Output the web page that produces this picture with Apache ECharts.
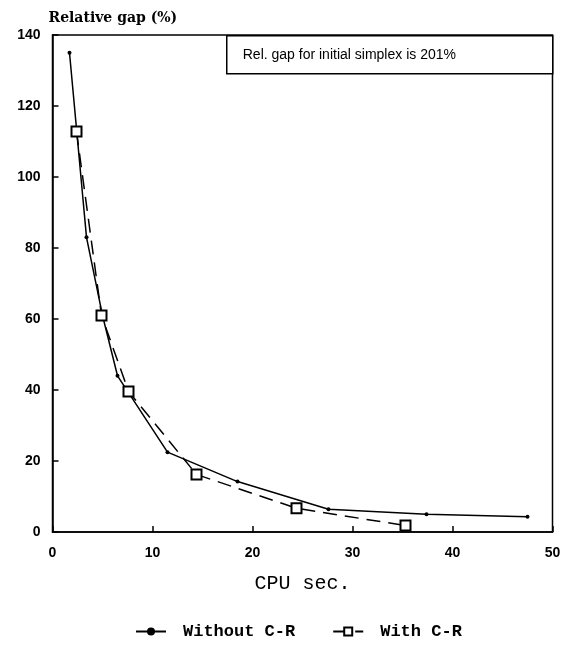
<!DOCTYPE html>
<html><head><meta charset="utf-8">
<script src="https://cdn.jsdelivr.net/npm/echarts@6/dist/echarts.min.js"></script>
<style>html,body{margin:0;padding:0;background:#fff}#c{width:566px;height:657px}</style>
</head><body><div id="c"></div>
<script>
const withoutX = [1.7, 3.4, 5.0, 6.5, 11.5, 18.5, 27.6, 37.4, 47.5];
const withoutY = [135, 83, 61, 44, 22.5, 14.2, 6.4, 5.0, 4.3];
const withX = [2.4, 4.9, 7.6, 14.4, 24.4, 35.3];
const withY = [112.8, 61, 39.6, 16.2, 6.7, 1.8];
const xTicks = [0, 10, 20, 30, 40, 50];
const yTicks = [0, 20, 40, 60, 80, 100, 120, 140];
const noteText = 'Rel. gap for initial simplex is 201%';

const chart = echarts.init(document.getElementById('c'), null, {renderer: 'canvas'});
const pairs = (xs, ys) => xs.map((x, i) => [x, ys[i]]);
chart.setOption({
  backgroundColor: '#fff',
  animation: false,
  grid: {left: 52.5, right: 13.5, top: 35, bottom: 125, show: true, borderColor: '#000', borderWidth: 1.5},
  xAxis: {
    type: 'value', min: xTicks[0], max: xTicks[xTicks.length - 1], interval: 10,
    name: 'CPU sec.', nameLocation: 'middle', nameGap: 42,
    nameTextStyle: {fontFamily: 'Liberation Mono', fontSize: 20, color: '#000'},
    axisLine: {lineStyle: {color: '#000', width: 1.5}},
    axisTick: {inside: true, length: 6, lineStyle: {color: '#000', width: 1.5}},
    axisLabel: {color: '#000', fontFamily: 'Liberation Sans', fontWeight: 'bold', fontSize: 14, margin: 14},
    splitLine: {show: false}
  },
  yAxis: {
    type: 'value', min: yTicks[0], max: yTicks[yTicks.length - 1], interval: 20,
    name: 'Relative gap (%)', nameLocation: 'end', nameGap: 10,
    nameTextStyle: {fontFamily: 'DejaVu Serif', fontWeight: 'bold', fontSize: 14, color: '#000', align: 'left', padding: [0, 0, 0, -4]},
    axisLine: {lineStyle: {color: '#000', width: 1.5}},
    axisTick: {inside: true, length: 6, lineStyle: {color: '#000', width: 1.5}},
    axisLabel: {color: '#000', fontFamily: 'Liberation Sans', fontWeight: 'bold', fontSize: 14, margin: 12},
    splitLine: {show: false}
  },
  legend: {
    bottom: 12, left: 130, itemWidth: 30, itemHeight: 10, itemGap: 37,
    textStyle: {fontFamily: 'Liberation Mono', fontWeight: 'bold', fontSize: 17, color: '#000', padding: [0, 0, 0, 12]},
    data: [
      {name: 'Without C-R', itemStyle: {color: '#000'}},
      {name: 'With C-R'}
    ]
  },
  graphic: [{
    type: 'group', left: 226, top: 35,
    children: [
      {type: 'rect', shape: {x: 0, y: 0, width: 326, height: 38}, style: {fill: '#fff', stroke: '#000', lineWidth: 1.5}},
      {type: 'text', x: 16, y: 19, style: {text: noteText, fontFamily: 'Liberation Sans', fontSize: 14, fill: '#000', verticalAlign: 'middle'}}
    ]
  }],
  series: [
    {
      name: 'Without C-R', type: 'line', data: pairs(withoutX, withoutY),
      symbol: 'circle', symbolSize: 4, itemStyle: {color: '#000'},
      lineStyle: {color: '#000', width: 1.5}
    },
    {
      name: 'With C-R', type: 'line', data: pairs(withX, withY),
      symbol: 'emptyRect', symbolSize: 10, itemStyle: {color: '#000', borderColor: '#000', borderWidth: 1.5},
      lineStyle: {color: '#000', width: 1.5, type: [14, 8]}
    }
  ]
});
</script></body></html>
